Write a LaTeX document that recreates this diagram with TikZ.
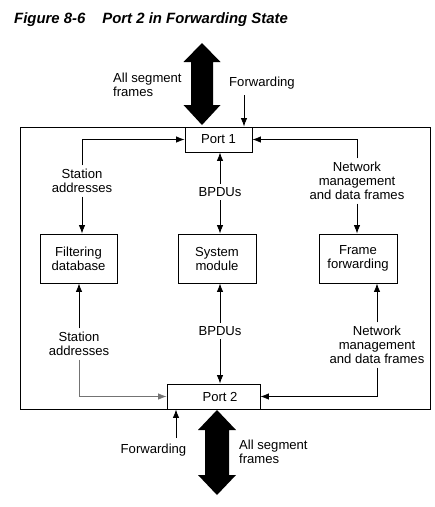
\documentclass[tikz,border=0pt]{standalone}
\usepackage{fontspec}
\setmainfont{Liberation Sans}
\usetikzlibrary{arrows.meta}
\begin{document}
\begin{tikzpicture}[x=1pt,y=-1pt,
  every node/.style={font=\fontsize{13.1pt}{14pt}\selectfont},
  box/.style={draw, line width=0.9pt, minimum height=25pt, inner sep=0pt},
  module/.style={draw, line width=0.9pt, minimum width=77pt, minimum height=49pt, align=center, inner sep=0pt},
  lbl/.style={align=center, inner sep=3.5pt},
  arr/.style={line width=0.8pt, -{Latex[length=8.5pt,width=6.5pt]}},
  big/.style={fill=black}]
\useasboundingbox (0,0) rectangle (435,507);
% title
\node[anchor=base west, inner sep=0pt, font=\fontsize{14.9pt}{16pt}\selectfont\bfseries\itshape] (title) at (14,23) {Figure 8-6\hspace{17pt}Port 2 in Forwarding State};
% outer switch box
\draw[line width=0.9pt] (20,127) rectangle (430,409);
% ports
\node[box, minimum width=67pt] (p1) at (218.5,139.5) {Port 1};
\node[box, minimum width=93pt] (p2) at (213.5,396.5) {};
\node[inner sep=0pt] (p2t) at (220,396.5) {Port 2};
% modules
\node[module] (fd) at (78.5,258.5) {Filtering\\database};
\node[module, minimum width=78pt] (sm) at (217,258.5) {System\\module};
\node[module, minimum width=78pt] (ff) at (358,258.5) {Frame\\forwarding};
% labels
\node[lbl] (sa1) at (82,181) {Station\\addresses};
\node[lbl] (bp1) at (220,192) {BPDUs};
\node[lbl] (nm1) at (357,181) {Network\\management\\and data frames};
\node[lbl] (sa2) at (79,344) {Station\\addresses};
\node[lbl] (bp2) at (220,331) {BPDUs};
\node[lbl] (nm2) at (377,345) {Network\\management\\and data frames};
\node[lbl, inner sep=2pt] (fw1) at (262,83) {Forwarding};
\node[lbl, inner sep=2pt] (fw2) at (153.5,450) {Forwarding};
\node[anchor=west, align=left, inner sep=0pt] (asf1) at (113,84.5) {All segment\\frames};
\node[anchor=west, align=left, inner sep=0pt] (asf2) at (239,451.5) {All segment\\frames};
% top connectors
\draw[arr] (sa1.north) |- (p1.west);
\draw[arr] (sa1.south) -- (sa1.south |- fd.north);
\draw[arr] (bp1.north) -- (bp1.north |- p1.south);
\draw[arr] (bp1.south) -- (bp1.south |- sm.north);
\draw[arr] (nm1.north) |- (p1.east);
\draw[arr] (nm1.south) -- (nm1.south |- ff.north);
% bottom connectors
\draw[arr] (sa2.north) -- (sa2.north |- fd.south);
\draw[arr, black!55] (sa2.south) |- (p2.west);
\draw[arr] (bp2.north) -- (bp2.north |- sm.south);
\draw[arr] (bp2.south) -- (bp2.south |- p2.north);
\draw[arr] (nm2.north) -- (nm2.north |- ff.south);
\draw[arr] (nm2.south) |- (p2.east);
% forwarding arrows
\coordinate (f1) at (244,95);
\coordinate (f2) at (176,438);
\draw[arr] (f1) -- (f1 |- p1.north);
\draw[arr] (f2) -- (f2 |- p2.south);
% big double arrows
\fill[big] (202,43) -- (220.5,62) -- (213,62) -- (213,105) -- (220.5,105) -- (202,125)
  -- (183.5,105) -- (191,105) -- (191,62) -- (183.5,62) -- cycle;
\fill[big] (217,410) -- (236,430) -- (229,430) -- (229,475) -- (236,475) -- (217,495)
  -- (198,475) -- (205,475) -- (205,430) -- (198,430) -- cycle;
\end{tikzpicture}
\end{document}
